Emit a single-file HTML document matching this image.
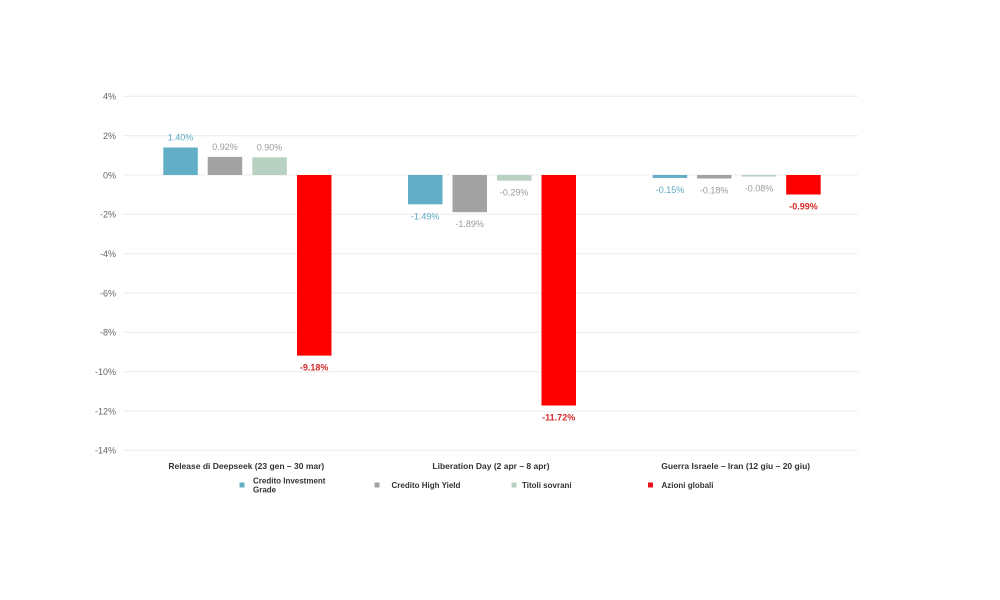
<!DOCTYPE html>
<html>
<head>
<meta charset="utf-8">
<style>
  html,body{margin:0;padding:0;background:#fff;}
  svg{display:block;}
  text{font-family:"Liberation Sans",Arial,sans-serif;}
</style>
</head>
<body>
<svg width="1000" height="600" viewBox="0 0 1000 600" xmlns="http://www.w3.org/2000/svg">
  <rect x="0" y="0" width="1000" height="600" fill="#fff"/>
  <!-- gridlines -->
  <g stroke="#ececec" stroke-width="1">
    <line x1="123" x2="858" y1="96.3" y2="96.3"/>
    <line x1="123" x2="858" y1="135.7" y2="135.7"/>
    <line x1="123" x2="858" y1="175" y2="175"/>
    <line x1="123" x2="858" y1="214.3" y2="214.3"/>
    <line x1="123" x2="858" y1="253.7" y2="253.7"/>
    <line x1="123" x2="858" y1="293" y2="293"/>
    <line x1="123" x2="858" y1="332.3" y2="332.3"/>
    <line x1="123" x2="858" y1="371.7" y2="371.7"/>
    <line x1="123" x2="858" y1="411" y2="411"/>
    <line x1="123" x2="858" y1="450.3" y2="450.3"/>
  </g>
  <!-- y labels -->
  <g font-size="9" fill="#666" text-anchor="end">
    <text x="116" y="99.5">4%</text>
    <text x="116" y="139">2%</text>
    <text x="116" y="178.3">0%</text>
    <text x="116" y="217.6">-2%</text>
    <text x="116" y="257">-4%</text>
    <text x="116" y="296.3">-6%</text>
    <text x="116" y="335.6">-8%</text>
    <text x="116" y="375">-10%</text>
    <text x="116" y="414.3">-12%</text>
    <text x="116" y="453.6">-14%</text>
  </g>
  <!-- Group 1 -->
  <rect x="163.3" y="147.5" width="34.5" height="27.5" fill="#62aec6"/>
  <rect x="207.7" y="156.9" width="34.5" height="18.1" fill="#a2a2a2"/>
  <rect x="252.3" y="157.3" width="34.5" height="17.7" fill="#b9d1c2"/>
  <rect x="297" y="175" width="34.5" height="180.6" fill="#ff0000"/>
  <!-- Group 2 -->
  <rect x="408" y="175" width="34.5" height="29.3" fill="#62aec6"/>
  <rect x="452.5" y="175" width="34.5" height="37.2" fill="#a2a2a2"/>
  <rect x="497" y="175" width="34.5" height="5.7" fill="#b9d1c2"/>
  <rect x="541.5" y="175" width="34.5" height="230.5" fill="#ff0000"/>
  <!-- Group 3 -->
  <rect x="652.7" y="175" width="34.5" height="2.95" fill="#62aec6"/>
  <rect x="697" y="175" width="34.5" height="3.5" fill="#a2a2a2"/>
  <rect x="741.7" y="175" width="34.5" height="1.6" fill="#b9d1c2"/>
  <rect x="786.2" y="175" width="34.5" height="19.5" fill="#ff0000"/>
  <!-- data labels -->
  <g font-size="9" text-anchor="middle">
    <text x="180.5" y="140.5" fill="#5aa8c2">1.40%</text>
    <text x="225" y="149.9" fill="#9a9a9a">0.92%</text>
    <text x="269.5" y="150.3" fill="#9a9a9a">0.90%</text>
    <text x="314.2" y="370.6" fill="#d42a2a" font-weight="bold">-9.18%</text>

    <text x="425.2" y="219.3" fill="#5aa8c2">-1.49%</text>
    <text x="469.7" y="227.2" fill="#9a9a9a">-1.89%</text>
    <text x="514.2" y="195.7" fill="#9a9a9a">-0.29%</text>
    <text x="558.7" y="420.5" fill="#d42a2a" font-weight="bold">-11.72%</text>

    <text x="670" y="193" fill="#5aa8c2">-0.15%</text>
    <text x="714.2" y="193.5" fill="#9a9a9a">-0.18%</text>
    <text x="759" y="191.6" fill="#9a9a9a">-0.08%</text>
    <text x="803.5" y="209.5" fill="#d42a2a" font-weight="bold">-0.99%</text>
  </g>
  <!-- category labels -->
  <g font-size="8.5" font-weight="bold" fill="#333" text-anchor="middle">
    <text x="246.3" y="469">Release di Deepseek (23 gen – 30 mar)</text>
    <text x="491" y="469">Liberation Day (2 apr – 8 apr)</text>
    <text x="735.7" y="469">Guerra Israele – Iran (12 giu – 20 giu)</text>
  </g>
  <!-- legend -->
  <rect x="239.5" y="482.5" width="5" height="5" fill="#62aec6"/>
  <rect x="374.5" y="482.5" width="5" height="5" fill="#a2a2a2"/>
  <rect x="511.5" y="482.5" width="5" height="5" fill="#b9d1c2"/>
  <rect x="648" y="482.5" width="5" height="5" fill="#e8101a"/>
  <g font-size="8" font-weight="bold" fill="#333">
    <text x="253" y="483.5">Credito Investment</text>
    <text x="253" y="492.5">Grade</text>
    <text x="391.5" y="488">Credito High Yield</text>
    <text x="522" y="488">Titoli sovrani</text>
    <text x="661.5" y="488">Azioni globali</text>
  </g>
</svg>
</body>
</html>
